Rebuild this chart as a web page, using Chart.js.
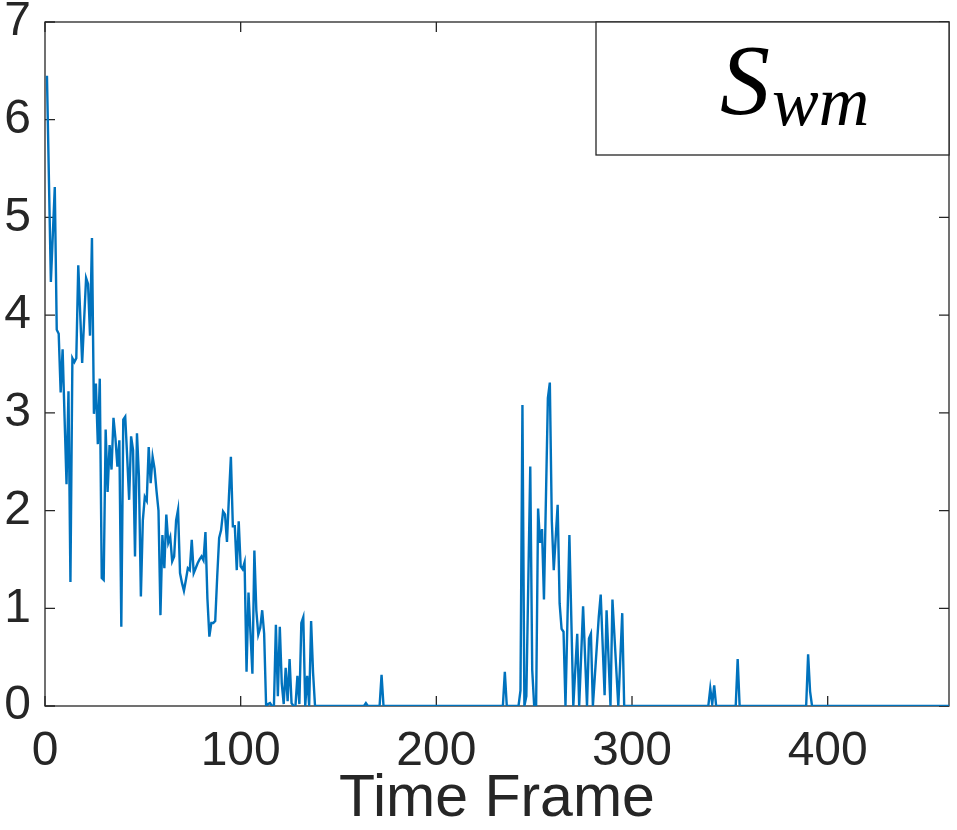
<!DOCTYPE html>
<html>
<head>
<meta charset="utf-8">
<script src="https://cdn.jsdelivr.net/npm/chart.js@4.4.0/dist/chart.umd.min.js"></script>
<style>
  html, body { margin: 0; padding: 0; background: #fff; }
  #c { display: block; }
</style>
</head>
<body>
<canvas id="c" width="957" height="830"></canvas>
<script>
// frame index -> S_wm value
const frames = [
  1, 3, 5, 6, 7, 8, 9, 10, 11, 12, 13, 14, 15, 16, 17, 19, 20, 21, 22, 23,
  24, 25, 26, 27, 28, 29, 30, 31, 32, 33, 34, 35, 36, 37, 38, 39, 40, 41, 42, 43,
  44, 45, 46, 47, 48, 49, 50, 51, 52, 53, 54, 55, 56, 57, 58, 59, 60, 61, 62, 63,
  64, 65, 66, 67, 68, 69, 70, 71, 72, 73, 74, 75, 76, 77, 78, 79, 80, 81, 82, 83,
  84, 85, 86, 87, 88, 89, 90, 91, 92, 93, 94, 95, 96, 97, 98, 99, 100, 101, 102, 103,
  104, 105, 106, 107, 108, 109, 110, 111, 112, 113, 114, 115, 116, 117, 118, 119, 120, 121, 122, 123,
  124, 125, 126, 127, 128, 129, 130, 131, 132, 133, 134, 135, 136, 137, 138, 163, 164, 165, 171, 172,
  173, 234, 235, 236, 242, 243, 244, 245, 246, 248, 249, 250, 251, 252, 253, 254, 255, 257, 258, 259,
  260, 262, 263, 264, 265, 266, 268, 270, 272, 273, 275, 277, 278, 279, 280, 283, 284, 286, 287, 289,
  290, 293, 295, 296, 339, 340, 341, 342, 343, 353, 354, 355, 389, 390, 391, 392, 462
];
const swm = [
  6.45, 4.34, 5.31, 3.85, 3.81, 3.21, 3.65, 2.95, 2.27, 3.22, 1.27, 3.56, 3.52, 3.56, 4.51, 3.51, 3.95, 4.38, 4.32, 3.79,
  4.79, 2.99, 3.30, 2.68, 3.35, 1.31, 1.29, 2.83, 2.19, 2.67, 2.42, 2.95, 2.74, 2.45, 2.72, 0.81, 2.93, 2.96, 2.55, 2.11,
  2.76, 2.62, 1.53, 2.79, 2.35, 1.12, 1.90, 2.14, 2.10, 2.65, 2.28, 2.55, 2.43, 2.20, 2.00, 0.93, 1.75, 1.41, 1.96, 1.67,
  1.73, 1.48, 1.53, 1.90, 2.01, 1.36, 1.26, 1.18, 1.29, 1.41, 1.39, 1.70, 1.36, 1.41, 1.46, 1.50, 1.53, 1.49, 1.78, 1.10,
  0.71, 0.85, 0.85, 0.87, 1.32, 1.72, 1.80, 1.99, 1.96, 1.68, 2.14, 2.55, 1.84, 1.84, 1.39, 1.89, 1.43, 1.40, 1.47, 0.35,
  1.16, 0.75, 0.33, 1.59, 0.98, 0.73, 0.80, 0.98, 0.74, 0, 0.02, 0.03, 0, 0, 0.83, 0.10, 0.81, 0.23, 0.02, 0.39,
  0.05, 0.48, 0.03, 0, 0, 0.31, 0.02, 0.85, 0.91, 0, 0.31, 0, 0.87, 0.34, 0, 0, 0.03, 0, 0, 0.32,
  0, 0, 0.35, 0, 0, 0.16, 3.08, 0, 0.10, 2.45, 0.37, 0, 0, 2.02, 1.67, 1.81, 1.09, 3.15, 3.31, 1.90,
  1.39, 2.06, 1.05, 0.79, 0.76, 0, 1.75, 0, 0.74, 0, 1.02, 0, 0.69, 0.74, 0, 0.91, 1.14, 0.11, 0.98, 0,
  1.09, 0, 0.95, 0, 0, 0.18, 0.02, 0.21, 0, 0, 0.48, 0, 0, 0.53, 0.15, 0, 0
];
const xTicks = [0, 100, 200, 300, 400];
const yTicks = [0, 1, 2, 3, 4, 5, 6, 7];
const xTitle = 'Time Frame';
const legendMain = 'S';
const legendSub = 'wm';

const axisColor = '#262626';
const sans = '"Liberation Sans", Arial, Helvetica, sans-serif';
const serif = '"Liberation Serif", "Times New Roman", serif';
const tickLen = 10;

// matlab style box with inward ticks, drawn under the line
const frame = {
    id: 'frame',
    beforeDatasetsDraw(chart) {
        const {ctx, chartArea: a, scales: {x, y}} = chart;
        ctx.save();
        ctx.strokeStyle = axisColor;
        ctx.lineWidth = 1.3;
        ctx.strokeRect(a.left, a.top, a.right - a.left, a.bottom - a.top);
        ctx.beginPath();
        xTicks.forEach(v => {
            const px = x.getPixelForValue(v);
            ctx.moveTo(px, a.bottom); ctx.lineTo(px, a.bottom - tickLen);
            ctx.moveTo(px, a.top); ctx.lineTo(px, a.top + tickLen);
        });
        yTicks.forEach(v => {
            const py = y.getPixelForValue(v);
            ctx.moveTo(a.left, py); ctx.lineTo(a.left + tickLen, py);
            ctx.moveTo(a.right, py); ctx.lineTo(a.right - tickLen, py);
        });
        ctx.stroke();
        ctx.restore();
    }
};

const swmLegend = {
    id: 'swmLegend',
    afterDraw(chart) {
        const {ctx, chartArea: a} = chart;
        const w = 353, h = 133;
        const x0 = a.right - w, y0 = a.top;
        ctx.save();
        ctx.fillStyle = '#fff';
        ctx.fillRect(x0, y0, w, h);
        ctx.strokeStyle = axisColor;
        ctx.lineWidth = 1.3;
        ctx.strokeRect(x0, y0, w, h);
        ctx.fillStyle = '#000';
        ctx.textBaseline = 'alphabetic';
        ctx.font = 'italic 100px ' + serif;
        ctx.fillText(legendMain, x0 + 124, y0 + 91);
        const sw = ctx.measureText(legendMain).width;
        ctx.font = 'italic 70px ' + serif;
        ctx.fillText(legendSub, x0 + 124 + sw + 2, y0 + 103);
        ctx.restore();
    }
};

new Chart(document.getElementById('c'), {
    type: 'line',
    data: {
        datasets: [{
            data: frames.map((f, i) => ({x: f, y: swm[i]})),
            borderColor: '#0072BD',
            borderWidth: 2.4,
            pointRadius: 0,
            tension: 0,
            fill: false
        }]
    },
    options: {
        responsive: false,
        animation: false,
        layout: {padding: {top: 22, right: 8, left: 0, bottom: 0}},
        plugins: {
            legend: {display: false},
            tooltip: {enabled: false}
        },
        scales: {
            x: {
                type: 'linear',
                min: 0,
                max: 462,
                afterBuildTicks: s => { s.ticks = xTicks.map(v => ({value: v})); },
                afterFit: s => { s.height = 124; s.paddingLeft = 0; s.paddingRight = 0; },
                grid: {display: false, drawTicks: false},
                border: {display: false},
                ticks: {
                    autoSkip: false,
                    maxRotation: 0,
                    padding: 17,
                    color: axisColor,
                    font: {family: sans, size: 48}
                },
                title: {
                    display: true,
                    text: xTitle,
                    color: axisColor,
                    padding: {top: 0, bottom: -5},
                    font: {family: sans, size: 59}
                }
            },
            y: {
                min: 0,
                max: 7,
                afterBuildTicks: s => { s.ticks = yTicks.map(v => ({value: v})); },
                afterFit: s => { s.width = 45; s.paddingTop = 0; s.paddingBottom = 0; },
                grid: {display: false, drawTicks: false},
                border: {display: false},
                ticks: {
                    padding: 14,
                    color: axisColor,
                    font: {family: sans, size: 48, lineHeight: 0.9}
                }
            }
        }
    },
    plugins: [frame, swmLegend]
});
</script>
</body>
</html>
